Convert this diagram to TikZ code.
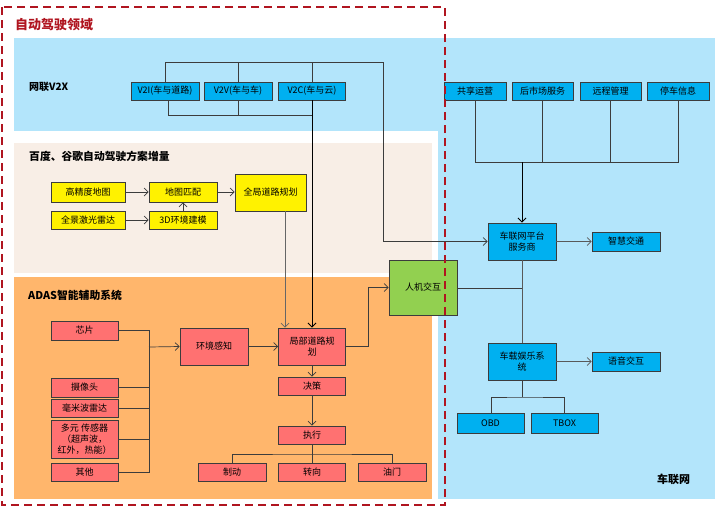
\documentclass[tikz,border=0pt]{standalone}
\usepackage{fontspec}
\setmainfont{Noto Sans CJK SC}
\usetikzlibrary{arrows.meta}
\definecolor{bgblue}{HTML}{B3E5FB}
\definecolor{bxblue}{HTML}{00B0F0}
\definecolor{beige}{HTML}{F8EEE6}
\definecolor{orng}{HTML}{FFB66C}
\definecolor{rbox}{HTML}{FF7171}
\definecolor{grn}{HTML}{92D050}
\definecolor{dred}{HTML}{B01520}
\definecolor{ln}{HTML}{3C3C3C}
\tikzset{
  bx/.style={draw=ln, line width=0.8pt, inner sep=0pt, align=center, font=\fontsize{9}{11}\selectfont},
  bluebox/.style={bx, fill=bxblue},
  ybox/.style={bx, fill=yellow},
  redbox/.style={bx, fill=rbox},
  gbox/.style={bx, fill=grn},
  conn/.style={draw=ln, line width=0.7pt},
  arr/.style={conn, -{Straight Barb[length=4pt,width=8pt]}},
  sect/.style={anchor=west, font=\fontsize{10.8}{12}\selectfont\bfseries, inner sep=0pt}
}
\begin{document}
\begin{tikzpicture}[x=1pt,y=-1pt]
\useasboundingbox (0,0) rectangle (719,514);
% regions
\fill[bgblue] (14,38) rectangle (715,499);
\fill[white] (0,131) rectangle (438,514);
\fill[beige] (14,143) rectangle (432,273);
\fill[orng] (14,277) rectangle (432,499);
% section labels
\node[sect, font=\fontsize{10}{12}\selectfont\bfseries] (lv2x) at (29,87) {网联V2X};
\node[sect] (lbd) at (29,156) {百度、谷歌自动驾驶方案增量};
\node[sect] (ladas) at (28,295) {ADAS智能辅助系统};
\node[sect, font=\fontsize{11}{13}\selectfont\bfseries] (lcl) at (657,479) {车联网};
% V2X boxes
\node[bluebox, minimum width=68pt, minimum height=18pt] (v2i) at (165,91) {V2I(车与道路)};
\node[bluebox, minimum width=68pt, minimum height=18pt] (v2v) at (238,91) {V2V(车与车)};
\node[bluebox, minimum width=67pt, minimum height=18pt] (v2c) at (312,91) {V2C(车与云)};
% beige boxes
\node[ybox, minimum width=74pt, minimum height=20pt] (gjd) at (88,192) {高精度地图};
\node[ybox, minimum width=74pt, minimum height=18pt] (qjl) at (88,220) {全景激光雷达};
\node[ybox, minimum width=68pt, minimum height=20pt] (dtpp) at (183,192) {地图匹配};
\node[ybox, minimum width=68pt, minimum height=18pt] (hjjm) at (183,220) {3D环境建模};
\node[ybox, minimum width=71pt, minimum height=37pt] (qjgh) at (270.5,192.5) {全局道路规划};
% orange boxes
\node[redbox, minimum width=67pt, minimum height=19pt] (chip) at (84.5,330.5) {芯片};
\node[redbox, minimum width=67pt, minimum height=19pt] (cam) at (84.5,387.5) {摄像头};
\node[redbox, minimum width=67pt, minimum height=18pt] (mmw) at (84.5,408) {毫米波雷达};
\node[redbox, minimum width=67pt, minimum height=38pt] (multi) at (84.5,439) {多元 传感器\\（超声波，\\红外，热能）};
\node[redbox, minimum width=67pt, minimum height=18pt] (other) at (84.5,472) {其他};
\node[redbox, minimum width=68pt, minimum height=37pt] (hjgz) at (214,346.5) {环境感知};
\node[redbox, minimum width=67pt, minimum height=37pt] (jubu) at (312,346.5) {局部道路规\\划};
\node[redbox, minimum width=67pt, minimum height=18pt] (jc) at (312,386) {决策};
\node[redbox, minimum width=67pt, minimum height=18pt] (zx) at (312,435) {执行};
\node[redbox, minimum width=68pt, minimum height=18pt] (zd) at (232,472) {制动};
\node[redbox, minimum width=67pt, minimum height=18pt] (zxn) at (312,472) {转向};
\node[redbox, minimum width=68pt, minimum height=18pt] (ym) at (392,472) {油门};
% HMI
\node[gbox, minimum width=68pt, minimum height=55pt] (rjjh) at (423,287.5) {人机交互};
% right boxes
\node[bluebox, minimum width=62pt, minimum height=18pt] (gx) at (475,91) {共享运营};
\node[bluebox, minimum width=61pt, minimum height=18pt] (hsc) at (542.5,91) {后市场服务};
\node[bluebox, minimum width=61pt, minimum height=18pt] (yc) at (610.5,91) {远程管理};
\node[bluebox, minimum width=62pt, minimum height=18pt] (tc) at (678,91) {停车信息};
\node[bluebox, minimum width=68pt, minimum height=37pt] (plat) at (522,241.5) {车联网平台\\服务商};
\node[bluebox, minimum width=68pt, minimum height=19pt] (zhjt) at (626,241.5) {智慧交通};
\node[bluebox, minimum width=68pt, minimum height=37pt] (ent) at (522,361.5) {车载娱乐系\\统};
\node[bluebox, minimum width=68pt, minimum height=19pt] (yy) at (626,361.5) {语音交互};
\node[bluebox, minimum width=67pt, minimum height=20pt] (obd) at (490.5,423) {OBD};
\node[bluebox, minimum width=67pt, minimum height=20pt] (tbox) at (564.5,423) {TBOX};
% V2X connectors
\coordinate (vt) at (383,62);
\coordinate (vb) at (312,115);
\draw[conn] (v2i.north) -- (165,62) -- (vt);
\draw[conn] (v2v.north) -- (v2v.north |- vt);
\draw[conn] (v2c.north) -- (v2c.north |- vt);
\draw[arr] (vt) |- (plat.west);
\draw[conn] (168,100) -- (168,115) -- (vb);
\draw[conn] (v2v.south) -- (v2v.south |- vb);
\draw[arr, line width=0.9pt, draw=black] (v2c.south) -- (jubu.north);
% beige connectors
\draw[arr] (gjd.east) -- (dtpp.west);
\draw[arr] (qjl.east) -- (hjjm.west);
\draw[arr] (hjjm.north) -- (dtpp.south);
\draw[arr] (dtpp.east) -- (dtpp.east -| qjgh.west);
\draw[arr, draw=gray!80!black] (qjgh.south -| 285,0) -- (jubu.north -| 285,0);
% sensors bus
\coordinate (sb) at (149,347);
\draw[conn] (chip.east) -| (other.east -| sb) -- (other.east);
\draw[conn] (cam.east) -- (cam.east -| sb);
\draw[conn] (mmw.east) -- (mmw.east -| sb);
\draw[conn] (multi.east) -- (multi.east -| sb);
\draw[arr] (sb) -- (hjgz.west);
\draw[arr] (hjgz.east) -- (jubu.west);
\draw[arr] (jubu.south) -- (jc.north);
\draw[arr] (jc.south) -- (zx.north);
\coordinate (eb) at (312,454);
\draw[conn] (zx.south) -- (eb);
\draw[conn] (zd.north) |- (eb) -| (ym.north);
\draw[conn] (eb) -- (zxn.north);
\draw[arr] (jubu.east) -- (368,346.5) |- (rjjh.west);
% right connectors
\coordinate (rb) at (522,162);
\draw[conn] (gx.south) |- (rb);
\draw[conn] (tc.south) |- (rb);
\draw[conn] (hsc.south) -- (hsc.south |- rb);
\draw[conn] (yc.south) -- (yc.south |- rb);
\draw[arr, line width=0.9pt, draw=black] (rb) -- (plat.north);
\draw[arr, draw=gray!70!black] (plat.east) -- (zhjt.west);
\draw[conn, draw=gray!70!black] (plat.south) -- (ent.north);
\draw[conn, line width=0.9pt] (rjjh.east |- 0,288) -- (522,288);
\draw[arr, draw=gray!70!black] (ent.east) -- (yy.west);
\coordinate (ob) at (522,397);
\draw[conn] (ent.south) -- (ob);
\draw[conn] (obd.north -| 491,0) |- (ob) -| (tbox.north -| 564,0);
% dashed border
\draw[dred, line width=2pt, dash pattern=on 8pt off 5pt] (2,7) rectangle (445,505);
\node[anchor=west, inner sep=0pt, text=dred, font=\fontsize{13}{15}\selectfont\bfseries] (title) at (15,25) {自动驾驶领域};
\end{tikzpicture}
\end{document}
